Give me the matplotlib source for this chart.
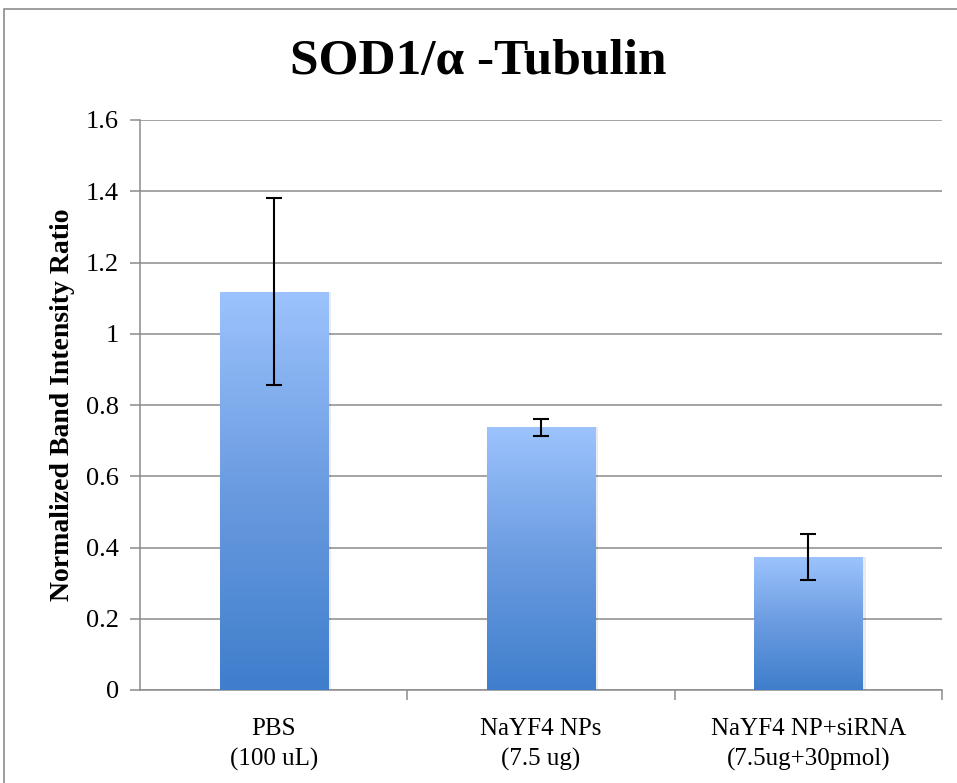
import numpy as np
import matplotlib
matplotlib.use("Agg")
import matplotlib.pyplot as plt
from matplotlib.colors import LinearSegmentedColormap
from matplotlib.patches import Rectangle

categories = ["PBS\n(100 uL)", "NaYF4 NPs\n(7.5 ug)", "NaYF4 NP+siRNA\n(7.5ug+30pmol)"]
values = [1.118, 0.738, 0.373]
errors = [0.262, 0.024, 0.065]
yticks = [0, 0.2, 0.4, 0.6, 0.8, 1, 1.2, 1.4, 1.6]
ytick_labels = ["0", "0.2", "0.4", "0.6", "0.8", "1", "1.2", "1.4", "1.6"]

plt.rcParams["font.family"] = ["Liberation Serif", "DejaVu Serif"]

fig = plt.figure(figsize=(9.57, 7.83), dpi=100)
ax = fig.add_axes([140 / 957, 93 / 783, 802 / 957, 570 / 783])

# figure frame
fig.add_artist(Rectangle((4 / 957, -0.01), 1.2, 1.0 - 9 / 783 + 0.01,
                         transform=fig.transFigure, fill=False,
                         edgecolor="#8c8c8c", linewidth=1.2))

x = np.arange(len(categories))
width = 0.405
cmap = LinearSegmentedColormap.from_list("grad", ["#3f7ecc", "#6a9be0", "#9cc3fd"])
grad = np.linspace(0, 1, 256).reshape(-1, 1)

bars = ax.bar(x, values, width, color="none", zorder=3)
for b in bars:
    bx, by = b.get_x(), b.get_y()
    bw, bh = b.get_width(), b.get_height()
    # faint shadow
    ax.add_patch(Rectangle((bx + 0.012, by), bw, bh, facecolor="#000000",
                           alpha=0.08, edgecolor="none", zorder=2))
    im = ax.imshow(grad, cmap=cmap, origin="lower", aspect="auto",
                   extent=[bx, bx + bw, by, by + bh], zorder=3)
    im.set_clip_path(b)

ax.errorbar(x, values, yerr=errors, fmt="none", ecolor="black",
            elinewidth=1.5, capsize=6, capthick=1.5, zorder=4)

ax.set_xlim(-0.5, len(categories) - 0.5)
ax.set_ylim(0, 1.6)
ax.set_yticks(yticks)
ax.set_yticklabels(ytick_labels, fontsize=19)
ax.yaxis.grid(True, color="#8c8c8c", linewidth=1.1, zorder=0)
ax.set_axisbelow(True)

ax.set_xticks(x)
ax.set_xticklabels(categories, fontsize=18, linespacing=1.45)
ax.tick_params(axis="x", length=0, pad=20)
ax.set_xticks(np.arange(len(categories)) + 0.5, minor=True)
ax.tick_params(axis="x", which="minor", length=7, color="#8c8c8c", width=1.1)
ax.tick_params(axis="y", length=7, color="#8c8c8c", width=1.1, pad=8)

for s in ["top", "right"]:
    ax.spines[s].set_visible(False)
for s in ["left", "bottom"]:
    ax.spines[s].set_color("#8c8c8c")
    ax.spines[s].set_linewidth(1.1)

ax.set_ylabel("Normalized Band Intensity Ratio", fontsize=20,
              fontweight="bold", labelpad=8)
fig.text(0.5, 1 - 62 / 783, "SOD1/\u03b1 -Tubulin", ha="center", va="center",
         fontsize=37, fontweight="bold")

fig.savefig("out.png", dpi=100, facecolor="white")
